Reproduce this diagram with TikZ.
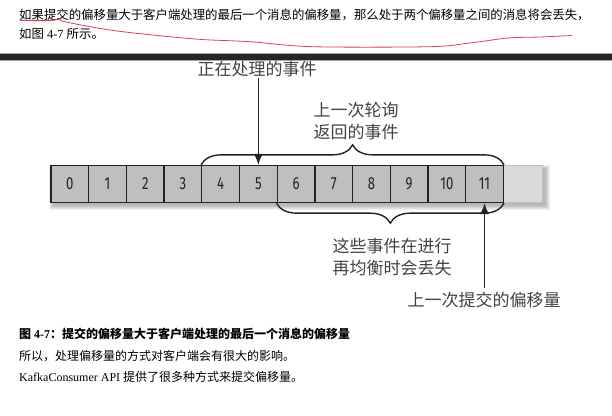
\documentclass[tikz,border=0pt]{standalone}
\usepackage{fontspec}
\setmainfont{Liberation Serif}
\newfontfamily\cjk{Noto Sans CJK SC}
\newfontfamily\numfont[FakeStretch=0.75]{Fira Sans}
\usetikzlibrary{arrows.meta,decorations.pathreplacing,positioning}
\definecolor{BookInk}{HTML}{222222}
\definecolor{CellGray}{HTML}{BFBFBF}
\definecolor{CellFog}{HTML}{DADADA}
\definecolor{PenRed}{HTML}{D9444A}

\begin{document}
\begin{tikzpicture}[x=1pt,y=-1pt,
            >={Latex[length=11pt,width=9pt]},
            body/.style={anchor=west,inner sep=0pt,font=\fontsize{12.4}{14}\selectfont},
            cell/.style={draw=BookInk,fill=CellGray,line width=1.3pt,
              minimum width=37.7pt,minimum height=37pt,inner sep=0pt,
              font=\numfont\fontsize{17.5}{17.5}\selectfont,text=BookInk},
            spare/.style={draw=black!25,fill=CellFog,line width=1pt,
              minimum width=39pt,minimum height=37pt,inner sep=0pt},
            note/.style={align=center,inner sep=1pt,text=BookInk!85,
              font=\cjk\fontsize{17}{22}\selectfont},
            ptr/.style={->,line width=1.5pt,draw=BookInk},
            brc/.style={decorate,decoration={brace,amplitude=20pt},
              line width=1.4pt,draw=BookInk}
          ]
          \useasboundingbox[fill=white] (0,0) rectangle (612,415);
          % page text above the figure
          \node[body] (intro) at (19,15) {{\cjk 如果提交的偏移量大于客户端处理的最后一个消息的偏移量，那么处于两个偏移量之间的消息将会丢失，}};
          \node[body] (intro2) at (19,33.5) {{\cjk 如图} 4-7 {\cjk 所示。}};
          \draw[PenRed,line width=0.8pt] plot[smooth,tension=0.5] coordinates
            {(20,20.5) (52,20.5) (58,18.5) (66,22) (117,31) (195,39) (250,41.7)
             (312,46.7) (430,46.7) (470,43) (508,38) (540,37) (572,35.5)};
          \fill[black!35] (0,52.8) rectangle (612,60.5);
          \fill[black!85] (0,53.8) rectangle (612,59.5);
          % offsets
          \foreach \k in {1,...,5}
            \fill[black,opacity=0.06] (54-\k,170-\k) rectangle (545+\k,205+\k);
          \node[spare] (c12) at (522.5,184) {};
          \foreach \i in {0,...,11}
            \node[cell] (c\i) at ({69.85+37.7*\i},184) {\i};
          \draw[brc] (c4.north west) -- (c11.north east);
          \draw[brc] (c11.south east) -- (c6.south west);
          % labels
          \node[note] (cur) at (257,69) {正在处理的事件};
          \node[note] (poll) at (356,121) {上一次轮询\\返回的事件};
          \node[note] (lost) at (392,257) {这些事件在进行\\再均衡时会丢失};
          \node[note,inner sep=4pt] (commit) at (484,300) {上一次提交的偏移量};
          \draw[ptr] (cur.south -| c5.north) -- (c5.north);
          \draw[ptr] (commit.north -| c11.south) -- (c11.south);
          % page text below the figure
          \node[body,font=\fontsize{12}{14}\selectfont\bfseries] (cap) at (19,334)
            {{\cjk 图} 4-7{\cjk ：提交的偏移量大于客户端处理的最后一个消息的偏移量}};
          \node[body,font=\fontsize{12}{14}\selectfont] (so) at (19,356)
            {{\cjk 所以，处理偏移量的方式对客户端会有很大的影响。}};
          \node[body,font=\fontsize{12}{14}\selectfont] (api) at (19,377)
            {KafkaConsumer API {\cjk 提供了很多种方式来提交偏移量。}};
        \end{tikzpicture}
\end{document}
